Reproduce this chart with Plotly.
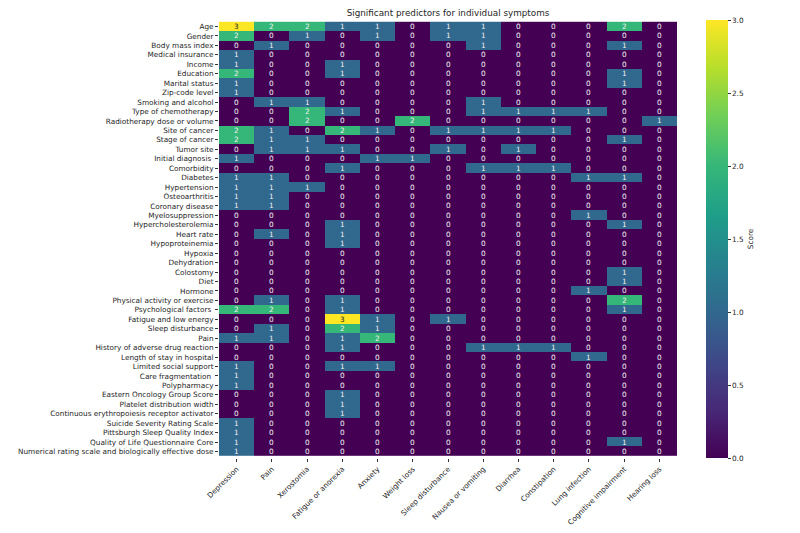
import plotly.graph_objects as go

symptoms = ["Depression", "Pain", "Xerostomia", "Fatigue or anorexia", "Anxiety", "Weight loss",
            "Sleep disturbance", "Nausea or vomiting", "Diarrhea", "Constipation", "Lung infection",
            "Cognitive impairment", "Hearing loss"]

predictors = ["Age", "Gender", "Body mass index", "Medical insurance", "Income", "Education",
              "Marital status", "Zip-code level", "Smoking and alcohol", "Type of chemotherapy",
              "Radiotherapy dose or volume", "Site of cancer", "Stage of cancer", "Tumor site",
              "Initial diagnosis ", "Comorbidity", "Diabetes", "Hypertension", "Osteoarthritis",
              "Coronary disease", "Myelosuppression", "Hypercholesterolemia", "Heart rate",
              "Hypoproteinemia", "Hypoxia", "Dehydration", "Colostomy", "Diet", "Hormone",
              "Physical activity or exercise", "Psychological factors ", "Fatigue and low energy",
              "Sleep disturbance", "Pain", "History of adverse drug reaction",
              "Length of stay in hospital", "Limited social support", "Care fragmentation ",
              "Polypharmacy", "Eastern Oncology Group Score", "Platelet distribution width",
              "Continuous erythropoiesis receptor activator", "Suicide Severity Rating Scale",
              "Pittsburgh Sleep Quality Index", "Quality of Life Questionnaire Core",
              "Numerical rating scale and biologically effective dose"]

scores = [
    [3, 2, 2, 1, 1, 0, 1, 1, 0, 0, 0, 2, 0],  # Age
    [2, 0, 1, 0, 1, 0, 1, 1, 0, 0, 0, 0, 0],  # Gender
    [0, 1, 0, 0, 0, 0, 0, 1, 0, 0, 0, 1, 0],  # BMI
    [1, 0, 0, 0, 0, 0, 0, 0, 0, 0, 0, 0, 0],  # Medical insurance
    [1, 0, 0, 1, 0, 0, 0, 0, 0, 0, 0, 0, 0],  # Income
    [2, 0, 0, 1, 0, 0, 0, 0, 0, 0, 0, 1, 0],  # Education
    [1, 0, 0, 0, 0, 0, 0, 0, 0, 0, 0, 1, 0],  # Marital status
    [1, 0, 0, 0, 0, 0, 0, 0, 0, 0, 0, 0, 0],  # Zip-code
    [0, 1, 1, 0, 0, 0, 0, 1, 0, 0, 0, 0, 0],  # Smoking and alcohol
    [0, 0, 2, 1, 0, 0, 0, 1, 1, 1, 1, 0, 0],  # Type of chemotherapy
    [0, 0, 2, 0, 0, 2, 0, 0, 0, 0, 0, 0, 1],  # Radiotherapy
    [2, 1, 0, 2, 1, 0, 1, 1, 1, 1, 0, 0, 0],  # Site of cancer
    [2, 1, 1, 0, 0, 0, 0, 0, 0, 0, 0, 1, 0],  # Stage of cancer
    [0, 1, 1, 1, 0, 0, 1, 0, 1, 0, 0, 0, 0],  # Tumor site
    [1, 0, 0, 0, 1, 1, 0, 0, 0, 0, 0, 0, 0],  # Initial diagnosis
    [0, 0, 0, 1, 0, 0, 0, 1, 1, 1, 0, 0, 0],  # Comorbidity
    [1, 1, 0, 0, 0, 0, 0, 0, 0, 0, 1, 1, 0],  # Diabetes
    [1, 1, 1, 0, 0, 0, 0, 0, 0, 0, 0, 0, 0],  # Hypertension
    [1, 1, 0, 0, 0, 0, 0, 0, 0, 0, 0, 0, 0],  # Osteoarthritis
    [1, 1, 0, 0, 0, 0, 0, 0, 0, 0, 0, 0, 0],  # Coronary disease
    [0, 0, 0, 0, 0, 0, 0, 0, 0, 0, 1, 0, 0],  # Myelosuppression
    [0, 0, 0, 1, 0, 0, 0, 0, 0, 0, 0, 1, 0],  # Hypercholesterolemia
    [0, 1, 0, 1, 0, 0, 0, 0, 0, 0, 0, 0, 0],  # Heart rate
    [0, 0, 0, 1, 0, 0, 0, 0, 0, 0, 0, 0, 0],  # Hypoproteinemia
    [0, 0, 0, 0, 0, 0, 0, 0, 0, 0, 0, 0, 0],  # Hypoxia
    [0, 0, 0, 0, 0, 0, 0, 0, 0, 0, 0, 0, 0],  # Dehydration
    [0, 0, 0, 0, 0, 0, 0, 0, 0, 0, 0, 1, 0],  # Colostomy
    [0, 0, 0, 0, 0, 0, 0, 0, 0, 0, 0, 1, 0],  # Diet
    [0, 0, 0, 0, 0, 0, 0, 0, 0, 0, 1, 0, 0],  # Hormone
    [0, 1, 0, 1, 0, 0, 0, 0, 0, 0, 0, 2, 0],  # Physical activity
    [2, 2, 0, 1, 0, 0, 0, 0, 0, 0, 0, 1, 0],  # Psychological factors
    [0, 0, 0, 3, 1, 0, 1, 0, 0, 0, 0, 0, 0],  # Fatigue and low energy
    [0, 1, 0, 2, 1, 0, 0, 0, 0, 0, 0, 0, 0],  # Sleep disturbance
    [1, 1, 0, 1, 2, 0, 0, 0, 0, 0, 0, 0, 0],  # Pain
    [0, 0, 0, 1, 0, 0, 0, 1, 1, 1, 0, 0, 0],  # History of adverse drug reaction
    [0, 0, 0, 0, 0, 0, 0, 0, 0, 0, 1, 0, 0],  # Length of stay
    [1, 0, 0, 1, 1, 0, 0, 0, 0, 0, 0, 0, 0],  # Limited social support
    [1, 0, 0, 0, 0, 0, 0, 0, 0, 0, 0, 0, 0],  # Care fragmentation
    [1, 0, 0, 0, 0, 0, 0, 0, 0, 0, 0, 0, 0],  # Polypharmacy
    [0, 0, 0, 1, 0, 0, 0, 0, 0, 0, 0, 0, 0],  # Eastern
    [0, 0, 0, 1, 0, 0, 0, 0, 0, 0, 0, 0, 0],  # Platelet
    [0, 0, 0, 1, 0, 0, 0, 0, 0, 0, 0, 0, 0],  # Continuous
    [1, 0, 0, 0, 0, 0, 0, 0, 0, 0, 0, 0, 0],  # Suicide
    [1, 0, 0, 0, 0, 0, 0, 0, 0, 0, 0, 0, 0],  # Pittsburgh
    [1, 0, 0, 0, 0, 0, 0, 0, 0, 0, 0, 1, 0],  # QLQ
    [1, 0, 0, 0, 0, 0, 0, 0, 0, 0, 0, 0, 0],  # NRS
]

colorbar_ticks = [0.0, 0.5, 1.0, 1.5, 2.0, 2.5, 3.0]

FONT = "DejaVu Sans"
TXT = "#262626"
FS = 7.3

# page body has an 8px default margin; compensate so the plot lands where the reference has it
W, H = 792, 525
L, R, T, B = 211, 123, 12, 75
plot_w = W - L - R

fig = go.Figure(go.Heatmap(
    z=scores,
    x=symptoms,
    y=predictors,
    colorscale="Viridis",
    zmin=0, zmax=3,
    xgap=0, ygap=0,
    colorbar=dict(
        x=(706 - 219) / plot_w, xanchor="left", xref="paper", xpad=0,
        y=0, yanchor="bottom", ypad=0, len=1, lenmode="fraction",
        thickness=22, outlinewidth=0,
        tickvals=colorbar_ticks,
        ticktext=[f"{t:.1f}" for t in colorbar_ticks],
        ticks="outside", ticklen=3, tickcolor="#333",
        tickfont=dict(family=FONT, size=FS, color=TXT),
        title=dict(text="Score", side="right", font=dict(family=FONT, size=FS, color=TXT)),
    ),
    hoverinfo="skip",
))

annotations = []
for i, row in enumerate(scores):
    for j, v in enumerate(row):
        annotations.append(dict(
            x=symptoms[j], y=predictors[i], text=str(v), showarrow=False,
            font=dict(family=FONT, size=FS, color=TXT if v >= 3 else "#f2f2f2"),
        ))

fig.update_layout(
    width=W, height=H,
    margin=dict(l=L, r=R, t=T, b=B),
    paper_bgcolor="white", plot_bgcolor="white",
    title=dict(text="Significant predictors for individual symptoms", x=0.5, xref="paper",
               xanchor="center", y=1 - 4.5 / H, yanchor="middle",
               font=dict(family=FONT, size=8.8, color=TXT)),
    xaxis=dict(tickangle=-45, ticks="outside", ticklen=3, tickcolor="#333",
               tickmode="array", tickvals=symptoms, ticktext=symptoms,
               tickfont=dict(family=FONT, size=FS, color=TXT), showgrid=False,
               zeroline=False, showline=False, automargin=False),
    yaxis=dict(autorange="reversed", ticks="outside", ticklen=3, tickcolor="#333",
               tickmode="array", tickvals=predictors, ticktext=predictors,
               tickfont=dict(family=FONT, size=FS, color=TXT), showgrid=False,
               zeroline=False, showline=False, automargin=False),
    annotations=annotations,
)

fig.write_html("out.html")
